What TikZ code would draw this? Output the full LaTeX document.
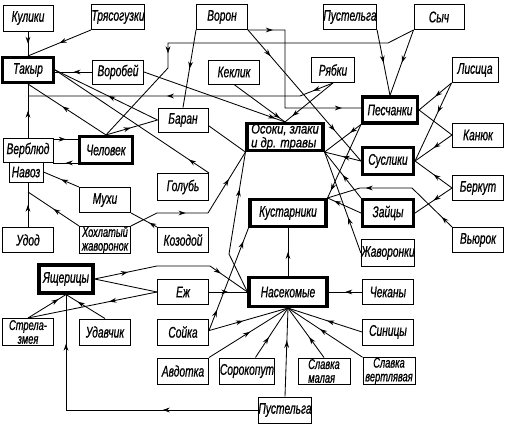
\documentclass[tikz,border=0pt]{standalone}
\usepackage{fontspec}
\setmainfont{Liberation Sans}[FakeStretch=0.66,FakeBold=0.8]
\newfontfamily\widefont{Liberation Sans}[FakeStretch=0.8,FakeBold=0.8]
\usetikzlibrary{arrows.meta,decorations.markings,calc}
\tikzset{
 lbl/.style={font=\fontsize{11}{11}\selectfont\itshape, align=center, inner sep=0pt},
 lbltwo/.style={font=\fontsize{10}{9.8}\selectfont\itshape, align=center, inner sep=0pt},
 lblwide/.style={font=\widefont\fontsize{10}{9.8}\selectfont\itshape, align=left, inner sep=0pt},
 bx/.style 2 args={lbl, draw, line width=0.7pt, minimum width=#1*0.025cm, minimum height=#2*0.025cm},
 tk/.style 2 args={lbl, draw, line width=2.2pt, minimum width=#1*0.025cm, minimum height=#2*0.025cm},
 ln/.style={line width=0.6pt},
 ma/.style={ln, postaction={decorate}, decoration={markings, mark=at position #1 with {\arrow{Stealth[length=5pt,width=3.4pt]}}}},
 ma/.default=0.5,
 mb/.style 2 args={ln, postaction={decorate}, decoration={markings, mark=at position #1 with {\arrow{Stealth[length=5pt,width=3.4pt]}}, mark=at position #2 with {\arrow{Stealth[length=5pt,width=3.4pt]}}}},
}
\begin{document}
\begin{tikzpicture}[x=0.025cm,y=-0.025cm]
\useasboundingbox (0,0) rectangle (508,425);
% nodes
\node[bx={50}{26}] (kul) at (28,18) {Кулики};
\node[bx={51}{25}] (tryas) at (118,17) {Трясогузки};
\node[bx={51}{25}] (voron) at (222,17) {Ворон};
\node[bx={51}{25}] (pust1) at (350,17) {Пустельга};
\node[bx={50}{25}] (sych) at (439,17) {Сыч};
\node[tk={51}{25}] (takyr) at (28,70) {Такыр};
\node[bx={51}{24}] (vorob) at (118,72) {Воробей};
\node[bx={51}{24}] (keklik) at (234,72) {Кеклик};
\node[bx={43}{25}] (ryabki) at (333,70) {Рябки};
\node[bx={46}{25}] (lisica) at (475,70) {Лисица};
\node[tk={55}{26}] (pesch) at (390,110) {Песчанки};
\node[bx={51}{24}] (kanyuk) at (478,135) {Канюк};
\node[tk={76}{27}, lblwide] (osoki) at (285,137) {Осоки, злаки\\и др. травы};
\node[tk={51}{27}] (susl) at (388,161) {Суслики};
\node[bx={51}{25}] (berkut) at (478,188) {Беркут};
\node[tk={76}{27}] (kust) at (288,213) {Кустарники};
\node[tk={51}{27}] (zaycy) at (388,213) {Зайцы};
\node[bx={51}{25}] (vyurok) at (478,240) {Вьюрок};
\node[bx={51}{27}] (zhav) at (388,253) {Жаворонки};
\node[bx={50}{24}] (baran) at (183,120) {Баран};
\node[bx={50}{24}] (verbl) at (28,150) {Верблюд};
\node[tk={53}{27}] (chel) at (106,150) {Человек};
\node[bx={34}{20}] (navoz) at (26,172) {Навоз};
\node[bx={51}{27}] (golub) at (183,187) {Голубь};
\node[bx={51}{25}] (mukhi) at (105,200) {Мухи};
\node[bx={51}{25}] (udod) at (28,240) {Удод};
\node[bx={51}{25}, lbltwo] (khokhl) at (105,240) {Хохлатый\\жаворонок};
\node[bx={51}{25}] (kozod) at (183,240) {Козодой};
\node[tk={54}{28}] (yasch) at (66,279) {Ящерицы};
\node[bx={51}{25}] (ezh) at (183,292) {Еж};
\node[tk={78}{29}] (nasek) at (288,292) {Насекомые};
\node[bx={51}{25}] (chek) at (388,292) {Чеканы};
\node[bx={51}{27}, lbltwo] (strela) at (28,332) {Стрела-\\змея};
\node[bx={51}{26}] (udav) at (105,332) {Удавчик};
\node[bx={51}{26}] (soyka) at (183,332) {Сойка};
\node[bx={51}{26}] (sinic) at (388,332) {Синицы};
\node[bx={51}{26}] (avdot) at (183,371) {Авдотка};
\node[bx={51}{26}] (sorok) at (247,371) {Сорокопут};
\node[bx={52}{26}, lbltwo, align=left] (slm) at (324,371) {Славка\\малая};
\node[bx={52}{26}, lbltwo] (slv) at (389,371) {Славка\\вертлявая};
\node[bx={51}{26}] (pust2) at (285,410) {Пустельга};
% bend points
\coordinate (vp1) at (285,30); \coordinate (vp2) at (285,108);
\coordinate (s1) at (388,43); \coordinate (s2) at (168,43); \coordinate (s3) at (168,68);
\coordinate (w1) at (412,188); \coordinate (w2) at (360,188);
\coordinate (r1) at (300,96); \coordinate (r2) at (29,96);
\coordinate (n1) at (28,192);
\coordinate (h1) at (157,213); \coordinate (h2) at (208,213);
\coordinate (y1) at (157,266); \coordinate (y2) at (210,266);
\coordinate (p1) at (66,410);
\coordinate (o1) at (229,254);
\coordinate (vt) at ([yshift=-1.2pt]verbl.north east);
\coordinate (cb) at ([yshift=1.5pt]chel.south west);
% top connectors
\draw[ma] (kul.south) -- (takyr.north);
\draw[ma] (tryas.south west) -- (takyr.north);
\draw[ma] (vorob.west) -- (vorob.west -| takyr.east);
\draw[ma=0.93] (vorob.east) -- (osoki.north);
\draw[ma=0.9] (keklik.south) -- (osoki.north);
\draw[ma] (voron.south west) -- (baran.north);
\draw[mb={0.2}{0.77}] (voron.south east) -- (susl.west);
\draw[mb={0.13}{0.9}] (voron.south east) -- (vp1) -- (vp2) -- (vp2 -| pesch.west);
\draw[ma] (pust1.south east) -- (pesch.north);
\draw[ma] (sych.south west) -- (pesch.north);
\draw[ma=0.71] (sych.south west) -- (s1) -- (s2) -- (s3) -- (chel.north);
\draw[mb={0.07}{0.55}] (ryabki.south) -- (r1) -- (r2);
\draw[ma=0.85] (ryabki.south) -- (osoki.north);
% right side
\draw[ma] (lisica.south west) -- (pesch.east);
\draw[ma=0.38] (lisica.south west) -- (susl.east);
\draw[ln] (kanyuk.west) -- (pesch.east);
\draw[ma] (kanyuk.west) -- (susl.east);
\draw[ma] (berkut.west) -- (susl.east);
\draw[ma] (berkut.west) -- (zaycy.east);
\draw[mb={0.1}{0.72}] (vyurok.north west) -- (w1) -- (w2) -- (kust.north east);
\draw[ma] (susl.west) -- (osoki.south east);
\draw[ma=0.3] (pesch.south west) -- (osoki.south east);
\draw[ma=0.9] (pesch.south west) -- (kust.north east);
\draw[ma] (zaycy.north west) -- (osoki.south east);
\draw[ma=0.35] (zhav.west) -- (osoki.south east);
\draw[ma=0.8] (zaycy.west) -- (kust.north east);
% left side
\draw[ma] (vt) -- (vt -| chel.west);
\draw[ma] (cb) -- (cb -| verbl.east);
\draw[ma] (verbl.north) -- (takyr.south);
\draw[ma=0.56] (chel.north) -- (takyr.south);
\draw[ma=0.48] (chel.north) -- (baran.west);
\draw[ma=0.48] (baran.west) -- (takyr.east);
\draw[ma=0.13] (golub.north east) -- (takyr.east);
\draw[ln] ([yshift=-4pt]baran.east) -- (osoki.south west);
\draw[ma] (mukhi.north west) -- (navoz.east);
\draw[ma] (udod.north) -- (udod.north |- navoz.south);
\draw[ma] (khokhl.north west) -- (n1);
\draw[ma=0.3] (kozod.north west) -- (mukhi.south east);
\draw[mb={0.38}{0.79}] (khokhl.north east) -- (h1) -- (h2) -- (osoki.south west);
% bottom
\draw[mb={0.21}{0.8}] (yasch.east) -- (y1) -- (y2) -- (nasek.west);
\draw[ln] (ezh.west) -- (yasch.east);
\draw[ma=0.37] (ezh.west) -- (strela.north);
\draw[ma=0.8] (strela.north) -- (yasch.south);
\draw[ma=0.7] (udav.north) -- (yasch.south);
\draw[mb={0.31}{0.84}] (pust2.west) -- (p1) -- (yasch.south);
\draw[ma] (ezh.east) -- (nasek.west);
\draw[ma=0.43] ([yshift=1pt]soyka.east) -- (nasek.south);
\draw[mb={0.2}{0.87}] ([yshift=1pt]soyka.east) -- (kust.south west);
\draw[ma=0.74] (nasek.west) -- (o1) -- (osoki.south west);
\draw[ma] (nasek.north) -- (kust.south);
\draw[ma] (chek.west) -- (nasek.east);
\draw[ma=0.47] (sinic.west) -- (nasek.south);
\draw[ma=0.57] (slv.north west) -- (nasek.south);
\draw[ma=0.41] (slm.north) -- (nasek.south);
\draw[ma=0.63] (pust2.north) -- (nasek.south);
\draw[ma=0.41] ([xshift=6pt]sorok.north) -- (nasek.south);
\draw[ma=0.52] (avdot.north east) -- (nasek.south);
\end{tikzpicture}
\end{document}
